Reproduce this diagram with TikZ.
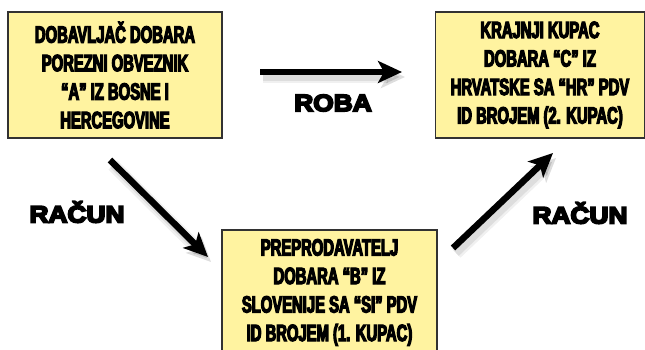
\documentclass[tikz,border=0pt]{standalone}
\usepackage{fontspec}
\usetikzlibrary{arrows.meta}
\newfontfamily\boxfont{Liberation Sans}[FakeStretch=0.63,FakeBold=5]
\newfontfamily\lblfont{Liberation Sans}[FakeStretch=1.12,FakeBold=8]
\definecolor{boxfill}{RGB}{255,243,160}
\definecolor{boxline}{RGB}{50,50,50}
\tikzset{
  party/.style={draw=boxline, line width=1.2pt, fill=boxfill, align=center,
    font=\boxfont\bfseries\fontsize{23.5}{28.5}\selectfont, inner sep=0pt},
  flowlbl/.style={font=\lblfont\bfseries\fontsize{23.5}{26}\selectfont, inner sep=0pt},
  flowarrow/.style={line width=6.5pt, -{Stealth[length=24pt,width=22pt,inset=6pt]},
    preaction={draw=black, opacity=0.06, line width=13pt, transform canvas={shift={(3pt,-5pt)}}},
    preaction={draw=black, opacity=0.08, line width=8pt, transform canvas={shift={(3pt,-5pt)}}}}
}
\begin{document}
\begin{tikzpicture}[x=1pt,y=-1pt]
\useasboundingbox (0,0) rectangle (645,350);
\node[party, minimum width=214pt, minimum height=126pt] (A) at (115,75)
  {DOBAVLJAČ DOBARA\\POREZNI OBVEZNIK\\“A” IZ BOSNE I\\HERCEGOVINE};
\node[party, minimum width=209pt, minimum height=126pt] (C) at (540,75)
  {KRAJNJI KUPAC\\DOBARA “C” IZ\\HRVATSKE SA “HR” PDV\\ID BROJEM (2. KUPAC)};
\node[party, minimum width=215pt, minimum height=125pt] (B) at (329.5,292.5)
  {PREPRODAVATELJ\\DOBARA “B” IZ\\SLOVENIJE SA “SI” PDV\\ID BROJEM (1. KUPAC)};
\coordinate (r1) at (260,72);
\coordinate (r2) at (402,72);
\coordinate (l1) at (110,160);
\coordinate (l2) at (208,257);
\coordinate (q1) at (453,248);
\coordinate (q2) at (553,153);
\draw[flowarrow] (r1) -- (r2);
\draw[flowarrow] (l1) -- (l2);
\draw[flowarrow] (q1) -- (q2);
\node[flowlbl] (roba) at (333,103) {ROBA};
\node[flowlbl] (racun1) at (77,212) {RAČUN};
\node[flowlbl] (racun2) at (580,213) {RAČUN};
\end{tikzpicture}
\end{document}
